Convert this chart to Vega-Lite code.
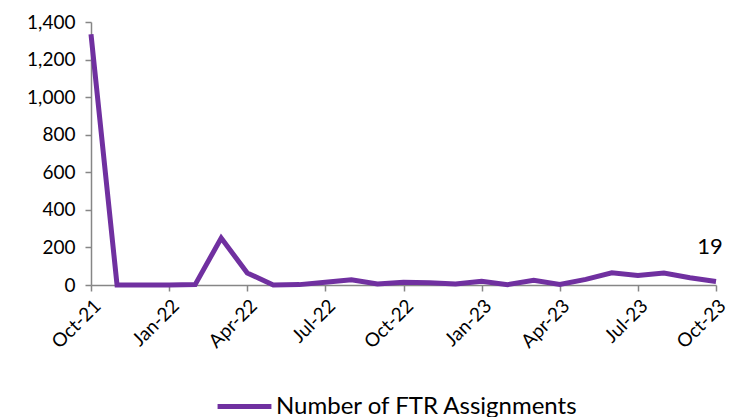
{
  "$schema": "https://vega.github.io/schema/vega-lite/v6.json",
  "width": 625,
  "height": 263,
  "autosize": {"type": "none"},
  "padding": {"left": 91, "top": 22, "right": 20, "bottom": 132},
  "background": "white",
  "config": {
    "view": {"stroke": null},
    "font": "Lato",
    "axis": {"labelFont": "Lato", "labelColor": "#000000", "domainColor": "#868686", "tickColor": "#868686", "grid": false, "domainWidth": 1.5, "tickWidth": 1.5}
  },
  "data": {
    "values": [
      {"month": "Oct-21", "value": 1335},
      {"month": "Nov-21", "value": 0},
      {"month": "Dec-21", "value": 0},
      {"month": "Jan-22", "value": 0},
      {"month": "Feb-22", "value": 2},
      {"month": "Mar-22", "value": 250},
      {"month": "Apr-22", "value": 64},
      {"month": "May-22", "value": 0},
      {"month": "Jun-22", "value": 2},
      {"month": "Jul-22", "value": 15},
      {"month": "Aug-22", "value": 28},
      {"month": "Sep-22", "value": 5},
      {"month": "Oct-22", "value": 15},
      {"month": "Nov-22", "value": 12},
      {"month": "Dec-22", "value": 5},
      {"month": "Jan-23", "value": 20},
      {"month": "Feb-23", "value": 2},
      {"month": "Mar-23", "value": 25},
      {"month": "Apr-23", "value": 3},
      {"month": "May-23", "value": 30},
      {"month": "Jun-23", "value": 65},
      {"month": "Jul-23", "value": 50},
      {"month": "Aug-23", "value": 64},
      {"month": "Sep-23", "value": 39},
      {"month": "Oct-23", "value": 19}
    ]
  },
  "encoding": {
    "x": {
      "field": "month",
      "type": "ordinal",
      "sort": null,
      "scale": {"type": "point", "padding": 0},
      "axis": {
        "title": null,
        "values": ["Oct-21", "Jan-22", "Apr-22", "Jul-22", "Oct-22", "Jan-23", "Apr-23", "Jul-23", "Oct-23"],
        "labelAngle": -45,
        "labelFontSize": 19,
        "tickSize": 6,
        "labelPadding": 5
      }
    },
    "y": {
      "field": "value",
      "type": "quantitative",
      "scale": {"domain": [0, 1400], "nice": false},
      "axis": {
        "title": null,
        "values": [0, 200, 400, 600, 800, 1000, 1200, 1400],
        "format": ",d",
        "labelFontSize": 19,
        "tickSize": 6,
        "labelPadding": 10
      }
    }
  },
  "layer": [
    {
      "mark": {"type": "line", "strokeWidth": 5, "strokeJoin": "miter"},
      "encoding": {
        "color": {
          "datum": "Number of FTR Assignments",
          "type": "nominal",
          "scale": {"range": ["#7030A0"]},
          "legend": {
            "title": null,
            "orient": "none",
            "legendX": 124,
            "legendY": 355,
            "symbolType": "stroke",
            "symbolSize": 2900,
            "symbolStrokeWidth": 5,
            "labelFontSize": 24,
            "labelFont": "Lato",
            "labelColor": "#000000",
            "labelOffset": 2,
            "labelLimit": 0
          }
        }
      }
    },
    {
      "transform": [{"filter": "datum.month === 'Oct-23'"}],
      "mark": {"type": "text", "fontSize": 22, "dy": -34, "dx": -6, "color": "#000000", "font": "Lato"},
      "encoding": {"text": {"field": "value", "type": "quantitative"}}
    }
  ]
}
